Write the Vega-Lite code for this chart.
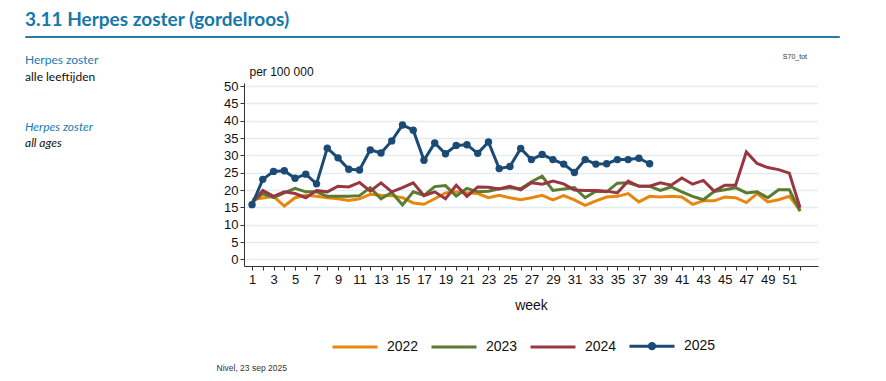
{
"$schema": "https://vega.github.io/schema/vega-lite/v6.json",
"padding": {"left": 24, "top": 10, "right": 10, "bottom": 8},
"bounds": "full",
"spacing": 15,
"config": {"view": {"stroke": null}, "font": "Liberation Sans", "axis": {"labelFont": "Liberation Sans", "titleFont": "Liberation Sans"}},
"title": {"text": "Nivel, 23 sep 2025", "orient": "bottom", "anchor": "start", "dx": 192, "fontSize": 8.5, "fontWeight": "normal", "font": "Liberation Sans", "color": "#333", "offset": 9},
"datasets": {
"labels": [
{"tekst": "Herpes zoster", "regel": 1, "soort": "ziekte"},
{"tekst": "all ages", "regel": 2, "soort": "groep"}
],
"rates": [
{"week":1,"year":"2022","rate":17.3},{"week":2,"year":"2022","rate":17.7},{"week":3,"year":"2022","rate":18.2},{"week":4,"year":"2022","rate":15.4},{"week":5,"year":"2022","rate":17.8},{"week":6,"year":"2022","rate":18.5},{"week":7,"year":"2022","rate":18.2},{"week":8,"year":"2022","rate":17.8},{"week":9,"year":"2022","rate":17.5},{"week":10,"year":"2022","rate":17.0},{"week":11,"year":"2022","rate":17.5},{"week":12,"year":"2022","rate":18.8},{"week":13,"year":"2022","rate":18.5},{"week":14,"year":"2022","rate":18.4},{"week":15,"year":"2022","rate":17.8},{"week":16,"year":"2022","rate":16.3},{"week":17,"year":"2022","rate":15.9},{"week":18,"year":"2022","rate":17.5},{"week":19,"year":"2022","rate":19.2},{"week":20,"year":"2022","rate":19.5},{"week":21,"year":"2022","rate":19.2},{"week":22,"year":"2022","rate":19.0},{"week":23,"year":"2022","rate":17.8},{"week":24,"year":"2022","rate":18.5},{"week":25,"year":"2022","rate":17.8},{"week":26,"year":"2022","rate":17.2},{"week":27,"year":"2022","rate":17.8},{"week":28,"year":"2022","rate":18.5},{"week":29,"year":"2022","rate":17.2},{"week":30,"year":"2022","rate":18.4},{"week":31,"year":"2022","rate":17.2},{"week":32,"year":"2022","rate":15.6},{"week":33,"year":"2022","rate":16.9},{"week":34,"year":"2022","rate":18.0},{"week":35,"year":"2022","rate":18.2},{"week":36,"year":"2022","rate":19.0},{"week":37,"year":"2022","rate":16.6},{"week":38,"year":"2022","rate":18.2},{"week":39,"year":"2022","rate":18.0},{"week":40,"year":"2022","rate":18.2},{"week":41,"year":"2022","rate":18.0},{"week":42,"year":"2022","rate":15.9},{"week":43,"year":"2022","rate":16.9},{"week":44,"year":"2022","rate":16.9},{"week":45,"year":"2022","rate":18.0},{"week":46,"year":"2022","rate":17.8},{"week":47,"year":"2022","rate":16.4},{"week":48,"year":"2022","rate":19.0},{"week":49,"year":"2022","rate":16.6},{"week":50,"year":"2022","rate":17.2},{"week":51,"year":"2022","rate":18.2},{"week":52,"year":"2022","rate":14.2},
{"week":1,"year":"2023","rate":16.5},{"week":2,"year":"2023","rate":19.0},{"week":3,"year":"2023","rate":17.8},{"week":4,"year":"2023","rate":19.2},{"week":5,"year":"2023","rate":20.5},{"week":6,"year":"2023","rate":19.5},{"week":7,"year":"2023","rate":19.5},{"week":8,"year":"2023","rate":18.2},{"week":9,"year":"2023","rate":18.2},{"week":10,"year":"2023","rate":18.2},{"week":11,"year":"2023","rate":18.4},{"week":12,"year":"2023","rate":20.7},{"week":13,"year":"2023","rate":17.5},{"week":14,"year":"2023","rate":19.3},{"week":15,"year":"2023","rate":15.7},{"week":16,"year":"2023","rate":19.5},{"week":17,"year":"2023","rate":18.5},{"week":18,"year":"2023","rate":21.0},{"week":19,"year":"2023","rate":21.3},{"week":20,"year":"2023","rate":18.3},{"week":21,"year":"2023","rate":20.5},{"week":22,"year":"2023","rate":19.5},{"week":23,"year":"2023","rate":19.7},{"week":24,"year":"2023","rate":20.4},{"week":25,"year":"2023","rate":20.7},{"week":26,"year":"2023","rate":20.4},{"week":27,"year":"2023","rate":22.4},{"week":28,"year":"2023","rate":24.0},{"week":29,"year":"2023","rate":19.9},{"week":30,"year":"2023","rate":20.3},{"week":31,"year":"2023","rate":20.7},{"week":32,"year":"2023","rate":17.8},{"week":33,"year":"2023","rate":19.7},{"week":34,"year":"2023","rate":19.5},{"week":35,"year":"2023","rate":22.0},{"week":36,"year":"2023","rate":22.1},{"week":37,"year":"2023","rate":21.2},{"week":38,"year":"2023","rate":21.1},{"week":39,"year":"2023","rate":19.9},{"week":40,"year":"2023","rate":20.9},{"week":41,"year":"2023","rate":19.5},{"week":42,"year":"2023","rate":18.2},{"week":43,"year":"2023","rate":17.2},{"week":44,"year":"2023","rate":19.6},{"week":45,"year":"2023","rate":20.1},{"week":46,"year":"2023","rate":20.7},{"week":47,"year":"2023","rate":19.2},{"week":48,"year":"2023","rate":19.5},{"week":49,"year":"2023","rate":17.8},{"week":50,"year":"2023","rate":20.1},{"week":51,"year":"2023","rate":20.1},{"week":52,"year":"2023","rate":13.9},
{"week":1,"year":"2024","rate":16.2},{"week":2,"year":"2024","rate":19.9},{"week":3,"year":"2024","rate":18.2},{"week":4,"year":"2024","rate":19.5},{"week":5,"year":"2024","rate":19.0},{"week":6,"year":"2024","rate":17.8},{"week":7,"year":"2024","rate":19.9},{"week":8,"year":"2024","rate":19.5},{"week":9,"year":"2024","rate":21.1},{"week":10,"year":"2024","rate":20.9},{"week":11,"year":"2024","rate":22.2},{"week":12,"year":"2024","rate":19.7},{"week":13,"year":"2024","rate":22.1},{"week":14,"year":"2024","rate":19.5},{"week":15,"year":"2024","rate":20.7},{"week":16,"year":"2024","rate":22.1},{"week":17,"year":"2024","rate":18.4},{"week":18,"year":"2024","rate":19.5},{"week":19,"year":"2024","rate":17.5},{"week":20,"year":"2024","rate":21.4},{"week":21,"year":"2024","rate":18.2},{"week":22,"year":"2024","rate":20.9},{"week":23,"year":"2024","rate":20.8},{"week":24,"year":"2024","rate":20.3},{"week":25,"year":"2024","rate":21.1},{"week":26,"year":"2024","rate":20.1},{"week":27,"year":"2024","rate":22.1},{"week":28,"year":"2024","rate":21.7},{"week":29,"year":"2024","rate":22.6},{"week":30,"year":"2024","rate":21.8},{"week":31,"year":"2024","rate":20.0},{"week":32,"year":"2024","rate":19.9},{"week":33,"year":"2024","rate":19.9},{"week":34,"year":"2024","rate":19.7},{"week":35,"year":"2024","rate":19.2},{"week":36,"year":"2024","rate":22.6},{"week":37,"year":"2024","rate":21.1},{"week":38,"year":"2024","rate":21.1},{"week":39,"year":"2024","rate":22.1},{"week":40,"year":"2024","rate":21.4},{"week":41,"year":"2024","rate":23.5},{"week":42,"year":"2024","rate":21.7},{"week":43,"year":"2024","rate":22.8},{"week":44,"year":"2024","rate":19.7},{"week":45,"year":"2024","rate":21.4},{"week":46,"year":"2024","rate":21.4},{"week":47,"year":"2024","rate":31.0},{"week":48,"year":"2024","rate":27.7},{"week":49,"year":"2024","rate":26.5},{"week":50,"year":"2024","rate":25.9},{"week":51,"year":"2024","rate":24.9},{"week":52,"year":"2024","rate":14.9},
{"week":1,"year":"2025","rate":15.8},{"week":2,"year":"2025","rate":23.1},{"week":3,"year":"2025","rate":25.4},{"week":4,"year":"2025","rate":25.6},{"week":5,"year":"2025","rate":23.4},{"week":6,"year":"2025","rate":24.6},{"week":7,"year":"2025","rate":21.8},{"week":8,"year":"2025","rate":32.1},{"week":9,"year":"2025","rate":29.3},{"week":10,"year":"2025","rate":26.0},{"week":11,"year":"2025","rate":25.8},{"week":12,"year":"2025","rate":31.6},{"week":13,"year":"2025","rate":30.7},{"week":14,"year":"2025","rate":34.2},{"week":15,"year":"2025","rate":38.8},{"week":16,"year":"2025","rate":37.3},{"week":17,"year":"2025","rate":28.6},{"week":18,"year":"2025","rate":33.6},{"week":19,"year":"2025","rate":30.5},{"week":20,"year":"2025","rate":32.9},{"week":21,"year":"2025","rate":33.1},{"week":22,"year":"2025","rate":30.6},{"week":23,"year":"2025","rate":33.9},{"week":24,"year":"2025","rate":26.2},{"week":25,"year":"2025","rate":26.8},{"week":26,"year":"2025","rate":32.0},{"week":27,"year":"2025","rate":28.8},{"week":28,"year":"2025","rate":30.3},{"week":29,"year":"2025","rate":28.8},{"week":30,"year":"2025","rate":27.5},{"week":31,"year":"2025","rate":25.1},{"week":32,"year":"2025","rate":28.8},{"week":33,"year":"2025","rate":27.5},{"week":34,"year":"2025","rate":27.6},{"week":35,"year":"2025","rate":28.8},{"week":36,"year":"2025","rate":28.8},{"week":37,"year":"2025","rate":29.2},{"week":38,"year":"2025","rate":27.6}
]
},
"vconcat": [
{
"width": 814, "height": 1,
"view": {"stroke": "#2a7aa2", "strokeWidth": 1},
"title": {"text": "3.11 Herpes zoster (gordelroos)", "anchor": "start", "font": "Lato", "fontSize": 19, "fontWeight": "bold", "color": "#1677ab", "offset": 6},
"data": {"values": []},
"mark": "rule",
"encoding": {}
},
{
"bounds": "full",
"spacing": 48,
"resolve": {"scale": {"color": "independent"}, "legend": {"color": "independent"}},
"hconcat": [
{
"width": 150, "height": 116,
"title": {"text": "Herpes zoster", "subtitle": "alle leeftijden", "anchor": "start", "frame": "group", "font": "Lato", "fontSize": 12, "fontWeight": "normal", "color": "#1b7bb0", "subtitleFont": "Lato", "subtitleFontSize": 12, "subtitleColor": "#111111", "subtitlePadding": 5, "offset": -1},
"data": {"name": "labels"},
"mark": {"type": "text", "align": "left", "baseline": "middle", "font": "Lato", "fontSize": 12, "fontStyle": "italic"},
"encoding": {
"x": {"datum": 0, "type": "quantitative", "scale": {"domain": [0, 1]}, "axis": null},
"y": {"field": "regel", "type": "quantitative", "scale": {"domain": [-1.65, 5.35], "reverse": true, "nice": false, "zero": false}, "axis": null},
"text": {"field": "tekst"},
"color": {"field": "soort", "type": "nominal", "scale": {"domain": ["ziekte", "groep"], "range": ["#1b7bb0", "#111111"]}, "legend": null}
}
},
{
"width": 574, "height": 183,
"data": {"name": "rates"},
"title": {"text": "S70_tot", "anchor": "end", "frame": "group", "fontSize": 7, "font": "Liberation Sans", "fontWeight": "normal", "color": "#333", "offset": 5, "dx": -11},
"encoding": {
"x": {"field": "week", "type": "quantitative", "scale": {"domain": [0.25, 53.67], "nice": false, "zero": false},
"axis": {"values": [1,2,3,4,5,6,7,8,9,10,11,12,13,14,15,16,17,18,19,20,21,22,23,24,25,26,27,28,29,30,31,32,33,34,35,36,37,38,39,40,41,42,43,44,45,46,47,48,49,50,51,52],
"labelExpr": "datum.value % 2 === 1 ? datum.label : ''", "title": "week", "titleFontSize": 14, "titleFontWeight": "normal", "titlePadding": 12, "titleColor": "#111",
"labelFontSize": 13, "labelPadding": 3, "labelColor": "#111", "labelFlush": false, "labelOverlap": false, "labelBound": false, "tickSize": 4, "tickColor": "#333", "domainColor": "#333", "grid": false}},
"y": {"field": "rate", "type": "quantitative", "scale": {"domain": [-1.9, 50.9], "nice": false, "zero": false},
"axis": {"values": [0,5,10,15,20,25,30,35,40,45,50], "title": "per 100 000", "titleAngle": 0, "titleAlign": "left", "titleBaseline": "alphabetic", "titleX": 5, "titleY": -8, "titleFontSize": 12, "titleFontWeight": "normal", "titleColor": "#111",
"labelFontSize": 13, "labelPadding": 2, "labelColor": "#111", "labelOverlap": false, "labelFlush": false, "tickSize": 4, "tickColor": "#333", "domainColor": "#333", "grid": true, "gridColor": "#e3ecee", "gridWidth": 1.5}}
},
"layer": [
{
"mark": {"type": "line", "strokeWidth": 3},
"encoding": {
"color": {"field": "year", "type": "nominal", "scale": {"domain": ["2022", "2023", "2024", "2025"], "range": ["#e8870f", "#5b7b2e", "#9a3641", "#1b4a75"]},
"legend": {"orient": "none", "legendX": 87, "legendY": 239, "direction": "horizontal", "title": null, "symbolType": "stroke", "symbolSize": 2025, "symbolStrokeWidth": 3, "labelFontSize": 14, "labelFont": "Liberation Sans", "labelColor": "#111", "labelOffset": 8, "columnPadding": 6,
"encode": {"symbols": {"update": {"shape": {"signal": "datum.value === '2025' ? 'M-1,0L1,0M0.12,0A0.12,0.12,0,1,1,-0.12,0A0.12,0.12,0,1,1,0.12,0Z' : 'stroke'"}, "fill": {"signal": "datum.value === '2025' ? '#1b4a75' : 'transparent'"}}}}}}
}
},
{
"transform": [{"filter": "datum.year === '2025'"}],
"mark": {"type": "point", "filled": true, "size": 55, "color": "#1b4a75", "opacity": 1}
}
]
}
]
}
]
}
